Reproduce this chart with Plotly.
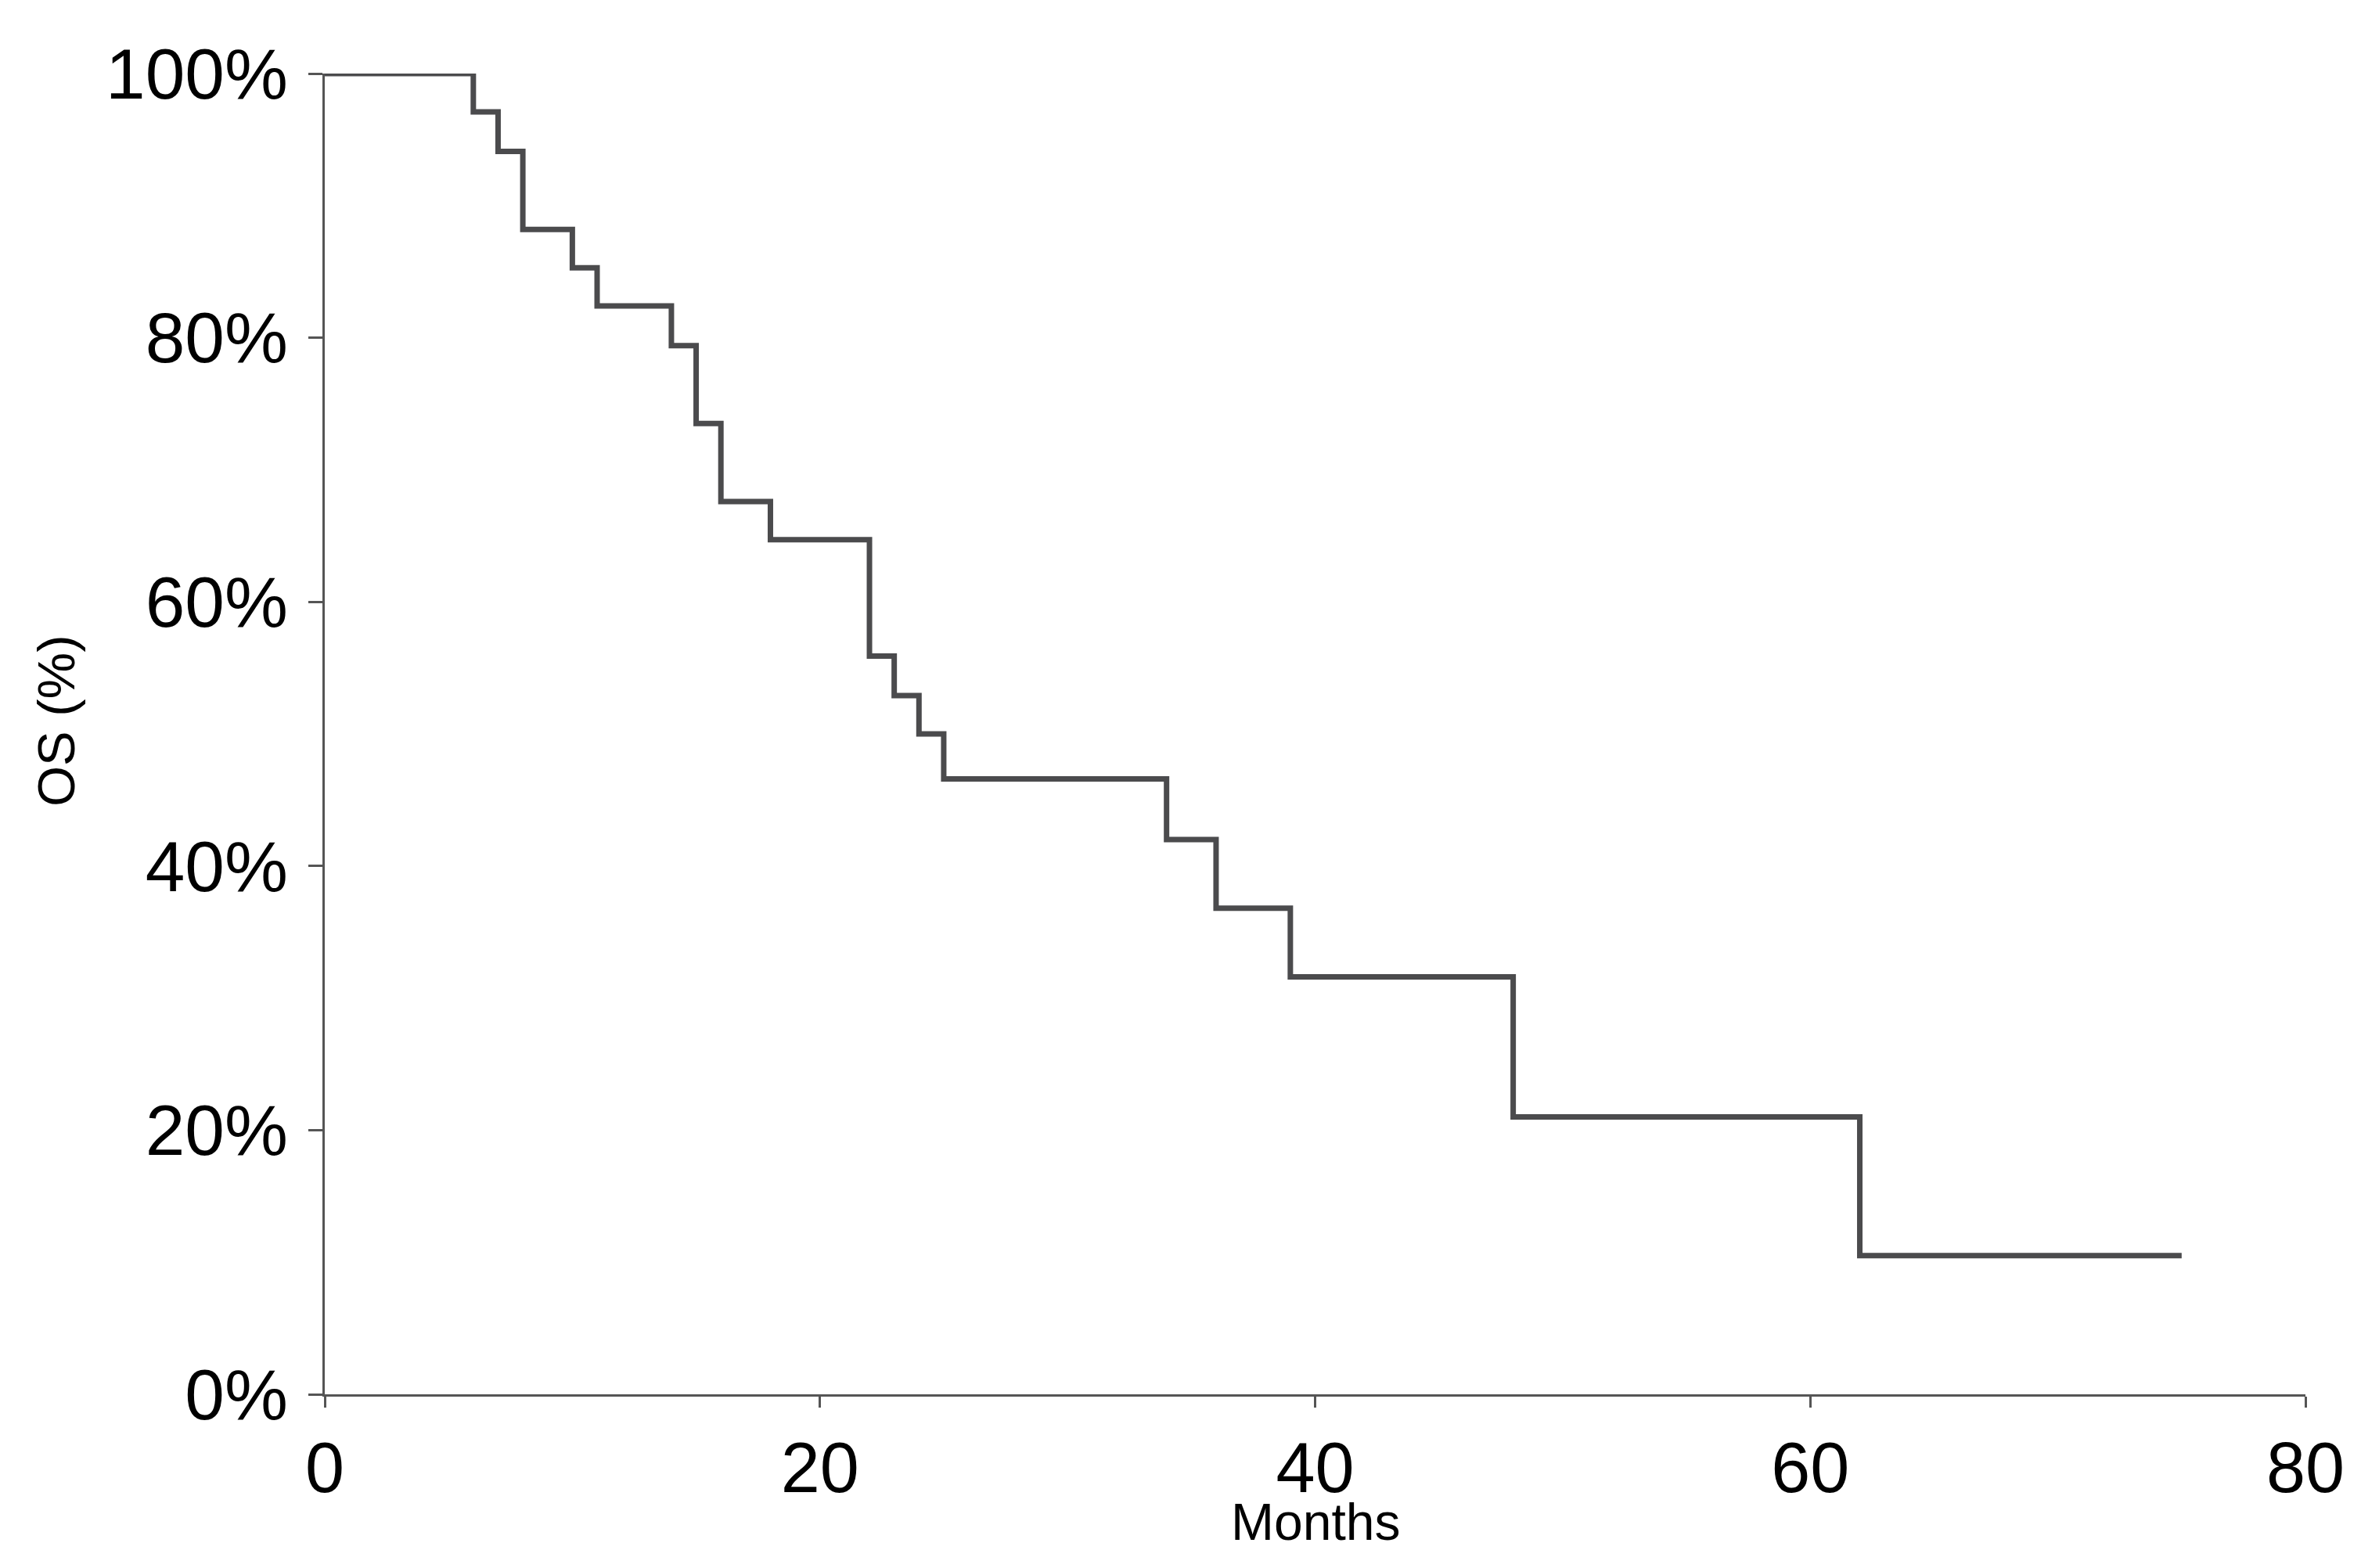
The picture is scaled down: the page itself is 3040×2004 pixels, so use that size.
import plotly.graph_objects as go

# Kaplan-Meier overall survival steps
event_months = [0, 6, 7, 8, 10, 11, 14, 15, 16, 18, 22, 23, 24, 25, 34, 36, 39, 48, 62, 75]
survival_pct = [100, 97.1, 94.1, 88.2, 85.3, 82.4, 79.4, 73.5, 67.6, 64.7, 55.9, 52.9, 50.0, 46.6, 42.0, 36.8, 31.6, 21.0, 10.5, 10.5]

x_ticks = [0, 20, 40, 60, 80]
y_ticks = [0, 20, 40, 60, 80, 100]
y_tick_labels = [f"{v}%" for v in y_ticks]

fig = go.Figure()
fig.add_trace(go.Scatter(
    x=event_months, y=survival_pct, mode="lines",
    line=dict(shape="hv", color="#4b4b4d", width=7),
    showlegend=False, hoverinfo="skip",
))

font_family = "Liberation Sans, Arial, sans-serif"
fig.update_layout(
    width=3040, height=2004,
    margin=dict(l=407, r=102, t=86, b=230),
    paper_bgcolor="white", plot_bgcolor="white",
    font=dict(family=font_family, color="#000000"),
    annotations=[
        dict(text="Months", xref="paper", yref="paper", x=0.5, y=0,
             xanchor="center", yanchor="middle", yshift=-163, showarrow=False,
             font=dict(size=66, family=font_family, color="#000000")),
        dict(text="OS (%)", xref="paper", yref="paper", x=0, y=0.51,
             xanchor="center", yanchor="middle", xshift=-344, textangle=-90,
             showarrow=False,
             font=dict(size=67, family=font_family, color="#000000")),
    ],
)
fig.update_xaxes(
    range=[0, 80], tickvals=x_ticks, ticktext=[str(v) for v in x_ticks],
    showgrid=False, zeroline=False,
    showline=True, linecolor="#555555", linewidth=3,
    ticks="outside", ticklen=14, tickwidth=3, tickcolor="#555555",
    tickfont=dict(size=90, family=font_family, color="#000000"),
    ticklabelstandoff=0,
)
fig.update_yaxes(
    range=[0, 100], tickvals=y_ticks, ticktext=y_tick_labels,
    showgrid=False, zeroline=False,
    showline=True, linecolor="#555555", linewidth=3,
    ticks="outside", ticklen=18, tickwidth=3, tickcolor="#555555",
    tickfont=dict(size=91, family=font_family, color="#000000"),
    ticklabelstandoff=8,
)

fig.write_html("out.html")
